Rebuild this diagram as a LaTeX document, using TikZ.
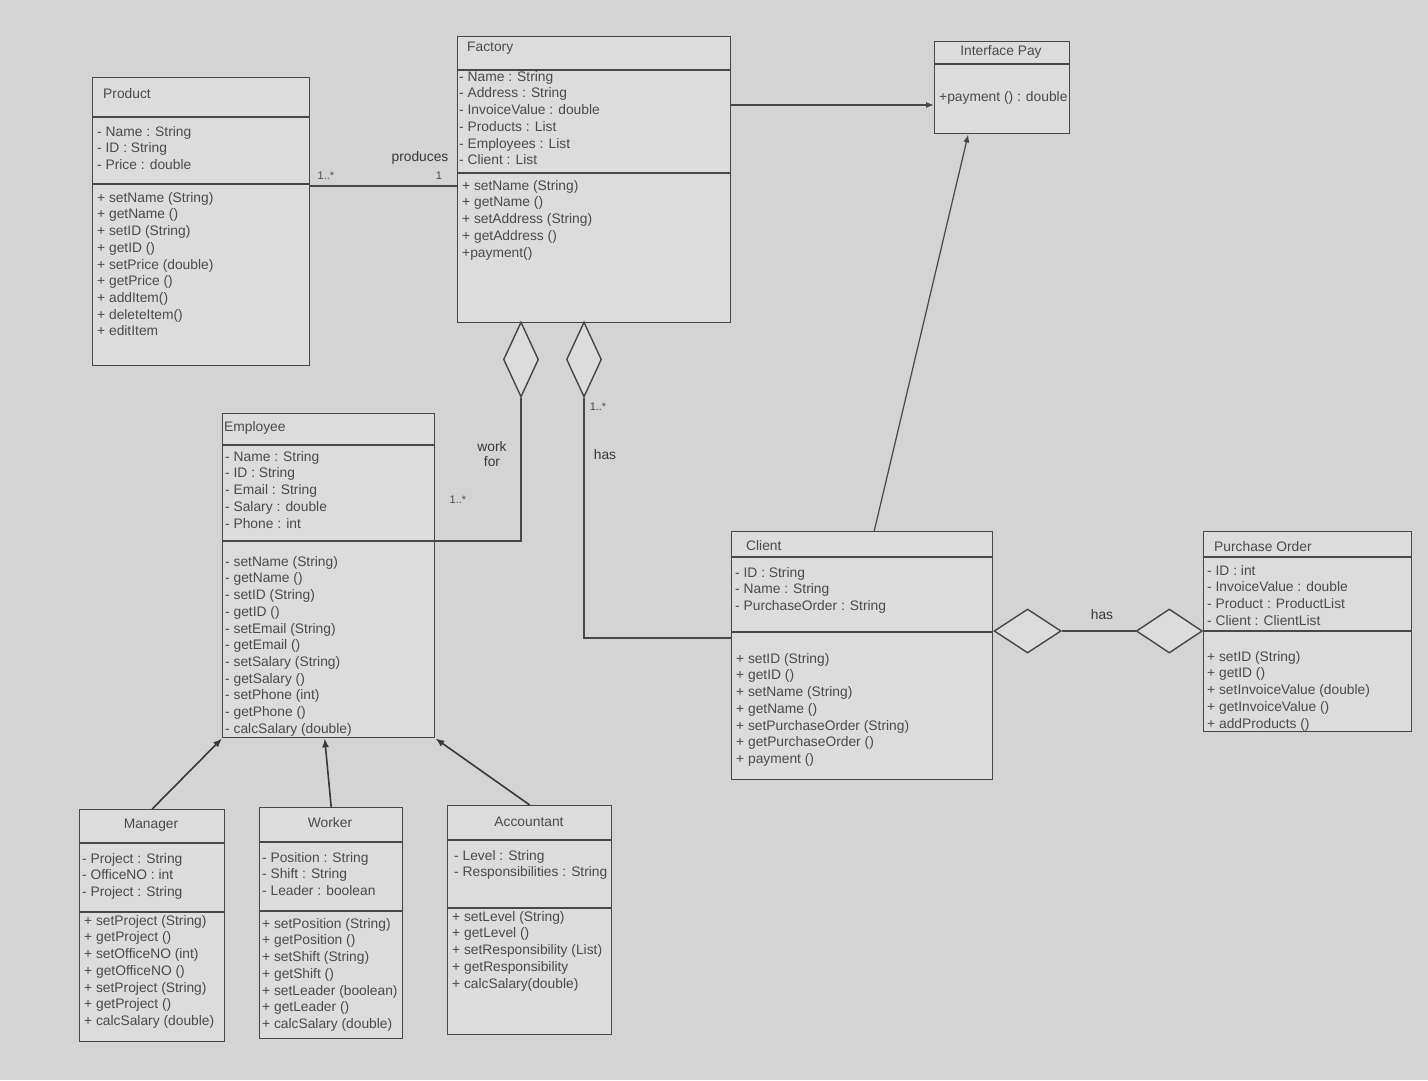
\documentclass[tikz,border=0pt]{standalone}
\usepackage{fontspec}
\setmainfont{Liberation Sans}
\usetikzlibrary{shapes.geometric,arrows.meta}
\definecolor{paper}{HTML}{D4D4D4}
\definecolor{boxfill}{HTML}{DCDCDC}
\definecolor{ink}{HTML}{474747}
\definecolor{txt}{HTML}{4A4A4A}
\definecolor{dia}{HTML}{3F4A40}
\begin{document}
\begin{tikzpicture}[x=1pt, y=-1pt,
		cls/.style={draw=ink, line width=1.4pt, fill=boxfill, anchor=north west, inner sep=0pt},
		sep/.style={draw=ink, line width=1.4pt},
		title/.style={text=txt, font=\fontsize{13.8}{16.7}\selectfont, inner sep=0pt},
		members/.style={text=txt, font=\fontsize{13.8}{16.7}\selectfont, align=left, anchor=north west, inner sep=0pt},
		lbl/.style={text=txt!75!black, font=\fontsize{13.8}{15.5}\selectfont, align=center, inner sep=0pt},
		mult/.style={text=txt, font=\fontsize{11}{13}\selectfont, inner sep=0pt},
		assoc/.style={draw=ink, line width=1.2pt},
		pay/.style={assoc, -{Latex[length=8pt,width=6pt]}},
		gen/.style={draw=ink!80!black, line width=1.6pt, -{Latex[length=9pt,width=7pt]}},
		agg/.style={diamond, draw=dia, line width=1.4pt, fill=boxfill, inner sep=0pt},
		]
		\fill[paper] (0,0) rectangle (1428,1080);

		\node[cls, minimum width=217pt, minimum height=288pt] (product) at (92,77) {};
		\draw[sep] (92,117) -- (309,117);
		\draw[sep] (92,184) -- (309,184);
		\node[title, anchor=west] (product-t) at (103,94) {Product};
		\node[members] (product-a) at (97,126) {- Name : String\\- ID : String\\- Price : double};
		\node[members] (product-m) at (97,192) {+ setName (String)\\+ getName ()\\+ setID (String)\\+ getID ()\\+ setPrice (double)\\+ getPrice ()\\+ addItem()\\+ deleteItem()\\+ editItem};

		\node[cls, minimum width=273pt, minimum height=286pt] (factory) at (457,36) {};
		\draw[sep] (457,70) -- (730,70);
		\draw[sep] (457,173) -- (730,173);
		\node[title, anchor=west] (factory-t) at (467,48) {Factory};
		\node[members] (factory-a) at (459,71) {- Name : String\\- Address : String\\- InvoiceValue : double\\- Products : List\\- Employees : List\\- Client : List};
		\node[members] (factory-m) at (462,180) {+ setName (String)\\+ getName ()\\+ setAddress (String)\\+ getAddress ()\\+payment()};

		\node[cls, minimum width=135pt, minimum height=92pt] (ipay) at (934,41) {};
		\draw[sep] (934,64) -- (1069,64);
		\node[title] (ipay-t) at (1001,52) {Interface Pay};
		\node[title, anchor=west] (ipay-m) at (939,98) {+payment () : double};

		\node[cls, minimum width=212pt, minimum height=324pt] (employee) at (222,413) {};
		\draw[sep] (222,445) -- (434,445);
		\draw[sep] (222,541) -- (434,541);
		\node[title, anchor=west] (employee-t) at (224,428) {Employee};
		\node[members] (employee-a) at (225,451) {- Name : String\\- ID : String\\- Email : String\\- Salary : double\\- Phone : int};
		\node[members] (employee-m) at (225,556) {- setName (String)\\- getName ()\\- setID (String)\\- getID ()\\- setEmail (String)\\- getEmail ()\\- setSalary (String)\\- getSalary ()\\- setPhone (int)\\- getPhone ()\\- calcSalary (double)};

		\node[cls, minimum width=261pt, minimum height=248pt] (client) at (731,531) {};
		\draw[sep] (731,557) -- (992,557);
		\draw[sep] (731,632) -- (992,632);
		\node[title, anchor=west] (client-t) at (746,546) {Client};
		\node[members] (client-a) at (735,567) {- ID : String\\- Name : String\\- PurchaseOrder : String};
		\node[members] (client-m) at (736,653) {+ setID (String)\\+ getID ()\\+ setName (String)\\+ getName ()\\+ setPurchaseOrder (String)\\+ getPurchaseOrder ()\\+ payment ()};

		\node[cls, minimum width=208pt, minimum height=200pt] (po) at (1203,531) {};
		\draw[sep] (1203,557) -- (1411,557);
		\draw[sep] (1203,631) -- (1411,631);
		\node[title, anchor=west] (po-t) at (1214,547) {Purchase Order};
		\node[members] (po-a) at (1207,565) {- ID : int\\- InvoiceValue : double\\- Product : ProductList\\- Client : ClientList};
		\node[members] (po-m) at (1207,651) {+ setID (String)\\+ getID ()\\+ setInvoiceValue (double)\\+ getInvoiceValue ()\\+ addProducts ()};

		\node[cls, minimum width=145pt, minimum height=232pt] (manager) at (79,809) {};
		\draw[sep] (79,843) -- (224,843);
		\draw[sep] (79,912) -- (224,912);
		\node[title] (manager-t) at (151,825) {Manager};
		\node[members] (manager-a) at (82,853) {- Project : String\\- OfficeNO : int\\- Project : String};
		\node[members] (manager-m) at (84,915) {+ setProject (String)\\+ getProject ()\\+ setOfficeNO (int)\\+ getOfficeNO ()\\+ setProject (String)\\+ getProject ()\\+ calcSalary (double)};

		\node[cls, minimum width=143pt, minimum height=231pt] (worker) at (259,807) {};
		\draw[sep] (259,842) -- (402,842);
		\draw[sep] (259,911) -- (402,911);
		\node[title] (worker-t) at (330,823) {Worker};
		\node[members] (worker-a) at (262,852) {- Position : String\\- Shift : String\\- Leader : boolean};
		\node[members] (worker-m) at (262,918) {+ setPosition (String)\\+ getPosition ()\\+ setShift (String)\\+ getShift ()\\+ setLeader (boolean)\\+ getLeader ()\\+ calcSalary (double)};

		\node[cls, minimum width=164pt, minimum height=229pt] (accountant) at (447,805) {};
		\draw[sep] (447,840) -- (611,840);
		\draw[sep] (447,908) -- (611,908);
		\node[title] (accountant-t) at (529,822) {Accountant};
		\node[members] (accountant-a) at (454,850) {- Level : String\\- Responsibilities : String};
		\node[members] (accountant-m) at (452,911) {+ setLevel (String)\\+ getLevel ()\\+ setResponsibility (List)\\+ getResponsibility\\+ calcSalary(double)};

		\node[agg, minimum width=35pt, minimum height=75pt] (workfor) at (521,359.5) {};
		\node[agg, minimum width=35pt, minimum height=75pt] (hasdia) at (584,359.5) {};
		\node[agg, minimum width=67pt, minimum height=44pt, anchor=west] (clientdia) at ([yshift=-100pt]client.north east) {};
		\node[agg, minimum width=66pt, minimum height=44pt, anchor=east] (orderdia) at ([yshift=-100pt]po.north west) {};

		\draw[assoc] ([yshift=-109pt]product.north east) -- ([yshift=-150pt]factory.north west);
		\draw[pay] ([yshift=-69pt]factory.north east) -- ([yshift=-64pt]ipay.north west);
		\draw[pay] ([xshift=12pt]client.north) -- ([xshift=-34pt]ipay.south);
		\draw[assoc] (workfor.south) |- ([yshift=-128pt]employee.north east);
		\draw[assoc] (hasdia.south) |- ([yshift=-107pt]client.north west);
		\draw[assoc] (clientdia.east) -- (orderdia.west);
		\draw[gen] (manager.north) -- (employee.south west);
		\draw[gen] (worker.north) -- ([xshift=-4pt]employee.south);
		\draw[gen] (accountant.north) -- (employee.south east);

		\node[lbl] (produces) at (420,158) {produces};
		\node[mult] (prod-many) at (326,176) {1..*};
		\node[mult] (prod-one) at (439,176) {1};
		\node[lbl] (workfor-l) at (492,454) {work\\for};
		\node[mult] (emp-many) at (458,500) {1..*};
		\node[mult] (client-many) at (598,407) {1..*};
		\node[lbl] (has-l) at (605,455) {has};
		\node[lbl] (order-has) at (1102,615) {has};
	\end{tikzpicture}
\end{document}
